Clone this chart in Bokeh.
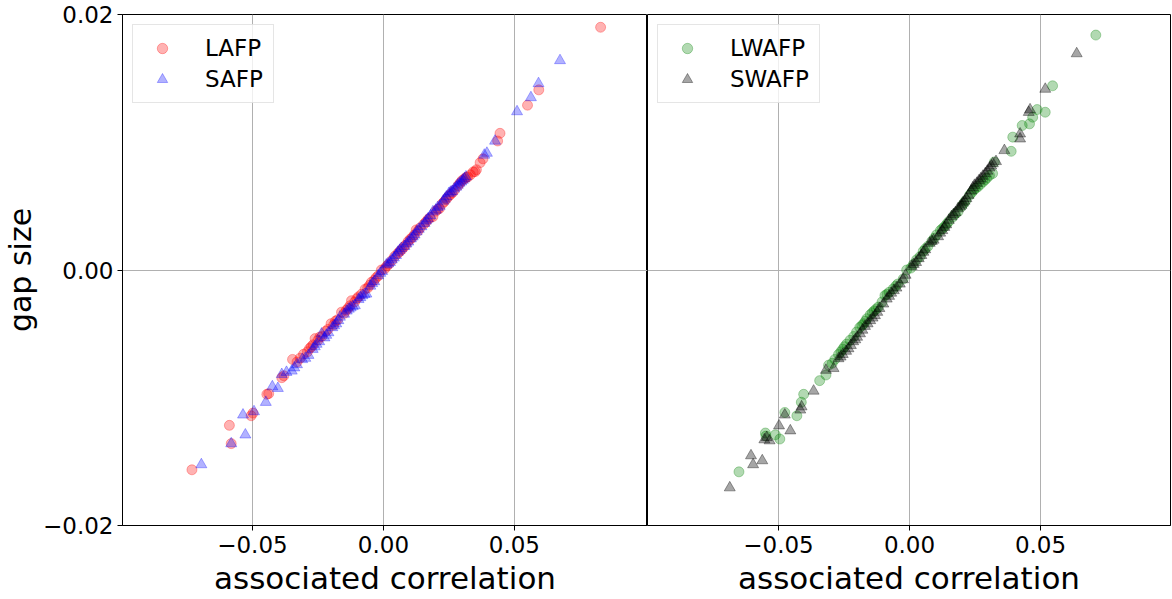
from bokeh.plotting import figure
from bokeh.layouts import row
from bokeh.models import FixedTicker, CustomJSTickFormatter, Range1d, Legend, LegendItem
from bokeh.embed import file_html
from bokeh.resources import INLINE

# ---------------- data ----------------
lafp_x = [-0.0731, -0.0588, -0.0581, -0.0505, -0.0498, -0.0445, -0.0438, -0.0388, -0.0380, -0.0347,
          -0.0330, -0.0305, -0.0290, -0.0275, -0.0261, -0.0250, -0.0235, -0.0220, -0.0200, -0.0190,
          -0.0175, -0.0160, -0.0150, -0.0135, -0.0122, -0.0110, -0.0095, -0.0084, -0.0070, -0.0060,
          -0.0046, -0.0035, -0.0020, -0.0008, 0.0005, 0.0020, 0.0043, 0.0055, 0.0070, 0.0085,
          0.0094, 0.0110, 0.0125, 0.0140, 0.0155, 0.0170, 0.0189, 0.0200, 0.0214, 0.0225,
          0.0240, 0.0255, 0.0271, 0.0285, 0.0300, 0.0310, 0.0322, 0.0343, 0.0355, 0.0369,
          0.0380, 0.0436, 0.0445, 0.0550, 0.0593, 0.0829,
          -0.0318, -0.0282, -0.0268, -0.0243, -0.0212, -0.0183, -0.0142, -0.0128, -0.0102, -0.0053,
          -0.0028, 0.0012, 0.0032, 0.0062, 0.0078, 0.0102, 0.0118, 0.0132, 0.0162, 0.0178,
          0.0207, 0.0232, 0.0248, 0.0263, 0.0292, 0.0316, 0.0332, 0.0350]
lafp_y = [-0.01564, -0.01216, -0.01359, -0.01141, -0.01120, -0.00973, -0.00968, -0.00843, -0.00828, -0.00700,
          -0.00720, -0.00660, -0.00640, -0.00600, -0.00537, -0.00550, -0.00520, -0.00480, -0.00420, -0.00430,
          -0.00390, -0.00330, -0.00340, -0.00300, -0.00240, -0.00250, -0.00210, -0.00190, -0.00150, -0.00140,
          -0.00096, -0.00080, -0.00045, 0.00000, 0.00010, 0.00045, 0.00107, 0.00130, 0.00160, 0.00195,
          0.00223, 0.00255, 0.00314, 0.00330, 0.00360, 0.00395, 0.00418, 0.00460, 0.00482, 0.00520,
          0.00555, 0.00590, 0.00625, 0.00660, 0.00700, 0.00715, 0.00729, 0.00768, 0.00785, 0.00840,
          0.00870, 0.01010, 0.01070, 0.01290, 0.01410, 0.01900,
          -0.00690, -0.00615, -0.00585, -0.00525, -0.00465, -0.00400, -0.00315, -0.00280, -0.00225, -0.00120,
          -0.00060, 0.00030, 0.00075, 0.00145, 0.00180, 0.00240, 0.00275, 0.00305, 0.00375, 0.00410,
          0.00475, 0.00535, 0.00575, 0.00605, 0.00680, 0.00725, 0.00745, 0.00770]

safp_x = [-0.0695, -0.0581, -0.0536, -0.0527, -0.0494, -0.0449, -0.0424, -0.0403, -0.0388, -0.0370,
          -0.0350, -0.0330, -0.0310, -0.0286, -0.0270, -0.0255, -0.0236, -0.0225, -0.0210, -0.0195,
          -0.0180, -0.0166, -0.0150, -0.0140, -0.0125, -0.0109, -0.0095, -0.0080, -0.0065, -0.0050,
          -0.0035, -0.0020, -0.0005, 0.0011, 0.0025, 0.0040, 0.0055, 0.0068, 0.0080, 0.0095,
          0.0105, 0.0119, 0.0135, 0.0145, 0.0157, 0.0170, 0.0189, 0.0200, 0.0215, 0.0228,
          0.0240, 0.0250, 0.0262, 0.0278, 0.0290, 0.0303, 0.0315, 0.0385, 0.0395, 0.0426,
          0.0510, 0.0563, 0.0592, 0.0674,
          -0.0340, -0.0298, -0.0262, -0.0245, -0.0218, -0.0188, -0.0172, -0.0132, -0.0117, -0.0088,
          -0.0072, -0.0043, -0.0012, 0.0018, 0.0032, 0.0048, 0.0062, 0.0088, 0.0112, 0.0127,
          0.0163, 0.0180, 0.0207, 0.0234, 0.0256, 0.0270, 0.0284, 0.0297, 0.0309]
safp_y = [-0.01523, -0.01359, -0.01134, -0.01290, -0.01108, -0.01035, -0.00913, -0.00926, -0.00817, -0.00800,
          -0.00790, -0.00740, -0.00700, -0.00667, -0.00620, -0.00580, -0.00500, -0.00530, -0.00490, -0.00450,
          -0.00420, -0.00368, -0.00345, -0.00320, -0.00295, -0.00278, -0.00230, -0.00200, -0.00187, -0.00125,
          -0.00090, -0.00044, -0.00010, 0.00041, 0.00060, 0.00095, 0.00140, 0.00170, 0.00185, 0.00220,
          0.00245, 0.00275, 0.00320, 0.00340, 0.00366, 0.00400, 0.00457, 0.00470, 0.00500, 0.00540,
          0.00573, 0.00600, 0.00615, 0.00650, 0.00680, 0.00703, 0.00730, 0.00900, 0.00915, 0.01010,
          0.01240, 0.01350, 0.01460, 0.01640,
          -0.00765, -0.00690, -0.00600, -0.00560, -0.00510, -0.00435, -0.00395, -0.00305, -0.00285, -0.00215,
          -0.00190, -0.00105, -0.00025, 0.00050, 0.00080, 0.00115, 0.00155, 0.00205, 0.00260, 0.00300,
          0.00385, 0.00425, 0.00490, 0.00555, 0.00610, 0.00635, 0.00665, 0.00690, 0.00715]

lwafp_x = [-0.0651, -0.0550, -0.0548, -0.0512, -0.0495, -0.0476, -0.0430, -0.0413, -0.0404, -0.0343,
           -0.0319, -0.0309, -0.0295, -0.0271, -0.0255, -0.0240, -0.0227, -0.0202, -0.0190, -0.0175,
           -0.0163, -0.0150, -0.0135, -0.0119, -0.0105, -0.0094, -0.0078, -0.0062, -0.0045, -0.0024,
           -0.0011, 0.0005, 0.0027, 0.0040, 0.0052, 0.0070, 0.0085, 0.0103, 0.0118, 0.0134,
           0.0150, 0.0165, 0.0185, 0.0200, 0.0215, 0.0229, 0.0245, 0.0260, 0.0280, 0.0295,
           0.0317, 0.0324, 0.0388, 0.0394, 0.0430, 0.0458, 0.0470, 0.0487, 0.0518, 0.0546,
           0.0711,
           -0.0285, -0.0262, -0.0248, -0.0213, -0.0182, -0.0168, -0.0142, -0.0127, -0.0086, -0.0052,
           0.0015, 0.0060, 0.0095, 0.0126, 0.0142, 0.0175, 0.0208, 0.0237, 0.0252, 0.0270,
           0.0288, 0.0305]
lwafp_y = [-0.01580, -0.01276, -0.01300, -0.01290, -0.01323, -0.01115, -0.01141, -0.01035, -0.00973, -0.00866,
           -0.00822, -0.00745, -0.00730, -0.00661, -0.00620, -0.00580, -0.00550, -0.00485, -0.00450, -0.00420,
           -0.00381, -0.00350, -0.00320, -0.00290, -0.00250, -0.00200, -0.00175, -0.00148, -0.00110, -0.00070,
           0.00000, 0.00015, 0.00080, 0.00105, 0.00146, 0.00185, 0.00225, 0.00275, 0.00310, 0.00340,
           0.00380, 0.00415, 0.00457, 0.00500, 0.00545, 0.00586, 0.00625, 0.00650, 0.00690, 0.00720,
           0.00755, 0.00846, 0.00929, 0.01040, 0.01131, 0.01144, 0.01196, 0.01256, 0.01235, 0.01442,
           0.01839,
           -0.00700, -0.00640, -0.00600, -0.00520, -0.00435, -0.00400, -0.00335, -0.00305, -0.00190, -0.00125,
           0.00045, 0.00165, 0.00250, 0.00325, 0.00360, 0.00440, 0.00525, 0.00605, 0.00640, 0.00670,
           0.00705, 0.00740]

swafp_x = [-0.0686, -0.0605, -0.0597, -0.0562, -0.0554, -0.0545, -0.0534, -0.0498, -0.0476, -0.0455,
           -0.0417, -0.0412, -0.0366, -0.0319, -0.0290, -0.0271, -0.0255, -0.0233, -0.0215, -0.0200,
           -0.0189, -0.0170, -0.0150, -0.0132, -0.0115, -0.0100, -0.0087, -0.0070, -0.0050, -0.0037,
           -0.0015, 0.0008, 0.0025, 0.0045, 0.0060, 0.0077, 0.0092, 0.0109, 0.0125, 0.0140,
           0.0160, 0.0175, 0.0185, 0.0198, 0.0210, 0.0225, 0.0235, 0.0248, 0.0265, 0.0280,
           0.0289, 0.0305, 0.0318, 0.0330, 0.0362, 0.0422, 0.0422, 0.0455, 0.0460, 0.0518,
           0.0638,
           -0.0263, -0.0242, -0.0224, -0.0207, -0.0180, -0.0160, -0.0141, -0.0123, -0.0078, -0.0060,
           -0.0025, 0.0016, 0.0035, 0.0053, 0.0085, 0.0117, 0.0133, 0.0150, 0.0168, 0.0192,
           0.0204, 0.0217, 0.0242, 0.0257, 0.0272, 0.0297, 0.0312]
swafp_y = [-0.01704, -0.01453, -0.01523, -0.01492, -0.01328, -0.01310, -0.01336, -0.01219, -0.01134, -0.01258,
           -0.01095, -0.01070, -0.00947, -0.00784, -0.00770, -0.00693, -0.00660, -0.00615, -0.00560, -0.00525,
           -0.00498, -0.00440, -0.00395, -0.00356, -0.00300, -0.00265, -0.00226, -0.00180, -0.00140, -0.00109,
           -0.00040, 0.00029, 0.00060, 0.00115, 0.00160, 0.00210, 0.00235, 0.00262, 0.00310, 0.00355,
           0.00418, 0.00450, 0.00480, 0.00508, 0.00540, 0.00585, 0.00620, 0.00664, 0.00700, 0.00735,
           0.00755, 0.00800, 0.00833, 0.00850, 0.00936, 0.01066, 0.01027, 0.01235, 0.01255, 0.01416,
           0.01694,
           -0.00680, -0.00635, -0.00590, -0.00545, -0.00470, -0.00420, -0.00375, -0.00330, -0.00205, -0.00160,
           -0.00075, 0.00045, 0.00090, 0.00140, 0.00225, 0.00290, 0.00335, 0.00390, 0.00435, 0.00495,
           0.00525, 0.00560, 0.00645, 0.00680, 0.00715, 0.00775, 0.00815]

x_ticks = [-0.05, 0.0, 0.05]
y_ticks = [-0.02, 0.0, 0.02]
x_label = "associated correlation"
y_label = "gap size"

# ---------------- styling ----------------
FONT = "DejaVu Sans"
fmt = CustomJSTickFormatter(code="return tick.toFixed(2).replace('-', '\u2212');")
y_range = Range1d(-0.02, 0.02)

FRAME_H = 514
TOP = 14
BOTTOM = 70
TICK_FS = "23px"
XLABEL_FS = "31px"
YLABEL_FS = "30px"


def style(p, show_y):
    p.outline_line_color = "black"
    p.outline_line_width = 1
    p.outline_line_alpha = 1
    p.background_fill_color = "white"
    p.border_fill_color = "white"
    for g in (p.xgrid[0], p.ygrid[0]):
        g.grid_line_color = "#b0b0b0"
        g.grid_line_width = 1
    p.xgrid[0].ticker = FixedTicker(ticks=x_ticks)
    p.ygrid[0].ticker = FixedTicker(ticks=y_ticks)
    xa = p.xaxis[0]
    xa.ticker = FixedTicker(ticks=x_ticks)
    xa.formatter = fmt
    xa.axis_label = x_label
    xa.axis_label_text_font = FONT
    xa.axis_label_text_font_size = XLABEL_FS
    xa.axis_label_text_font_style = "normal"
    xa.axis_label_text_color = "black"
    xa.axis_label_standoff = 4
    xa.major_label_text_font = FONT
    xa.major_label_text_font_size = TICK_FS
    xa.major_label_text_color = "black"
    xa.major_label_standoff = 5
    xa.major_tick_in = 0
    xa.major_tick_out = 5
    xa.minor_tick_out = 0
    xa.minor_tick_in = 0
    xa.axis_line_color = "black"
    ya = p.yaxis[0]
    if show_y:
        ya.ticker = FixedTicker(ticks=y_ticks)
        ya.formatter = fmt
        ya.axis_label = y_label
        ya.axis_label_text_font = FONT
        ya.axis_label_text_font_size = YLABEL_FS
        ya.axis_label_text_font_style = "normal"
        ya.axis_label_text_color = "black"
        ya.axis_label_standoff = 2
        ya.major_label_text_font = FONT
        ya.major_label_text_font_size = TICK_FS
        ya.major_label_text_color = "black"
        ya.major_label_standoff = 4
        ya.major_tick_in = 0
        ya.major_tick_out = 5
        ya.minor_tick_out = 0
        ya.minor_tick_in = 0
        ya.axis_line_color = "black"
    else:
        ya.visible = False


def make_legend(items):
    lg = Legend(items=items, location="top_left")
    lg.margin = 10
    lg.padding = 10
    lg.glyph_width = 38
    lg.glyph_height = 26
    lg.label_height = 26
    lg.label_standoff = 24
    lg.spacing = 5
    lg.label_text_font = FONT
    lg.label_text_font_size = TICK_FS
    lg.label_text_color = "black"
    lg.border_line_color = "#cccccc"
    lg.border_line_width = 1
    lg.background_fill_alpha = 0.8
    return lg


LEFT_W = 112 + 535
RIGHT_W = 524

p1 = figure(width=LEFT_W, height=TOP + FRAME_H + BOTTOM, x_range=Range1d(-0.0996, 0.1008),
            y_range=y_range, output_backend="svg", toolbar_location=None,
            min_border_left=120, min_border_right=0, min_border_top=TOP, min_border_bottom=BOTTOM)
style(p1, True)
r1 = p1.scatter(lafp_x, lafp_y, marker="circle", size=10, fill_color="red", line_color="red",
                fill_alpha=0.3, line_alpha=0.3)
r2 = p1.scatter(safp_x, safp_y, marker="triangle", size=11, fill_color="blue", line_color="blue",
                fill_alpha=0.3, line_alpha=0.3)
p1.add_layout(make_legend([LegendItem(label="LAFP", renderers=[r1]),
                           LegendItem(label="SAFP", renderers=[r2])]))

p2 = figure(width=RIGHT_W, height=TOP + FRAME_H + BOTTOM, x_range=Range1d(-0.1, 0.0996),
            y_range=y_range, output_backend="svg", toolbar_location=None,
            min_border_left=0, min_border_right=1, min_border_top=TOP, min_border_bottom=BOTTOM)
style(p2, False)
r3 = p2.scatter(lwafp_x, lwafp_y, marker="circle", size=10, fill_color="green", line_color="green",
                fill_alpha=0.3, line_alpha=0.3)
r4 = p2.scatter(swafp_x, swafp_y, marker="triangle", size=11, fill_color="black", line_color="black",
                fill_alpha=0.35, line_alpha=0.35)
p2.add_layout(make_legend([LegendItem(label="LWAFP", renderers=[r3]),
                           LegendItem(label="SWAFP", renderers=[r4])]))

layout = row(p1, p2, spacing=0)
open("out.html", "w").write(file_html(layout, INLINE))
